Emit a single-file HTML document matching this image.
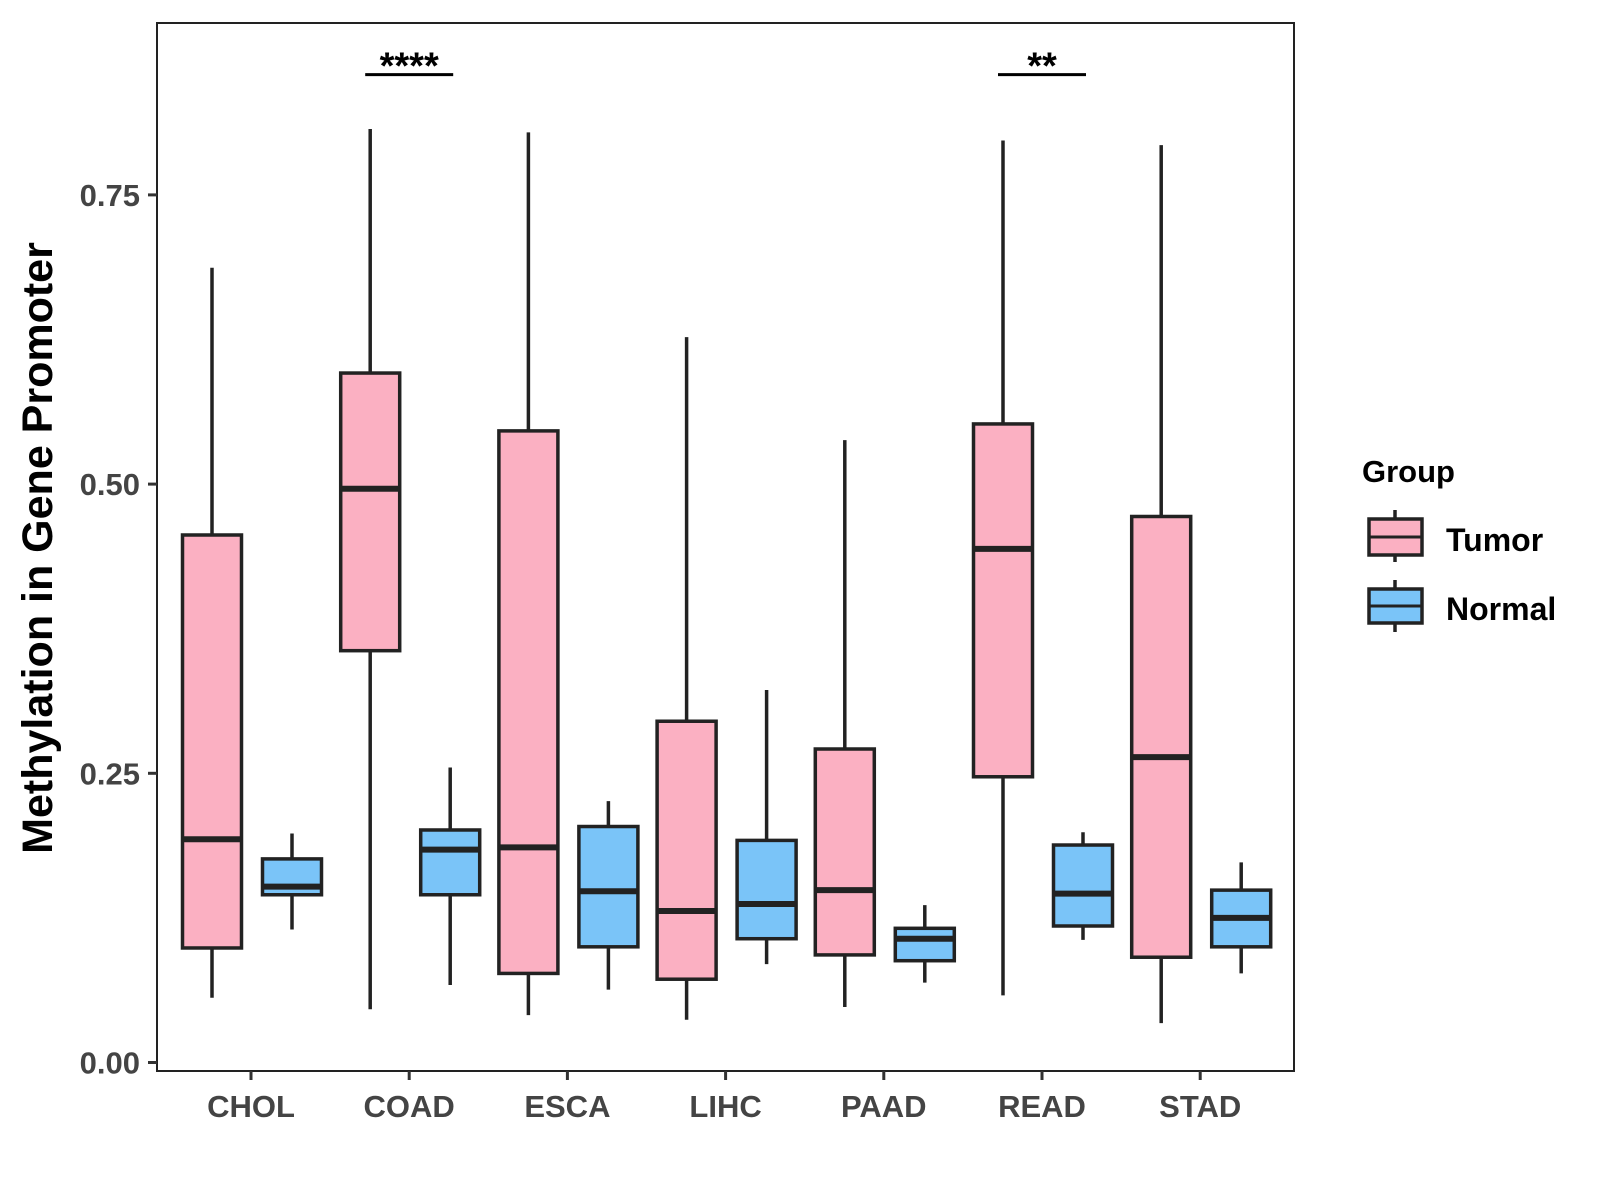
<!DOCTYPE html>
<html><head><meta charset="utf-8"><style>
body{margin:0;background:#fff}
svg{display:block;font-family:"Liberation Sans",Arial,sans-serif}
</style></head><body>
<svg id="chart" width="1600" height="1200" viewBox="0 0 1600 1200">
<rect x="157" y="23" width="1137" height="1048" fill="#fff" stroke="#222" stroke-width="2"/>
<g id="marks"></g>
<g id="axes"></g>
<text x="52" y="548" transform="rotate(-90 52 548)" text-anchor="middle" font-size="43" font-weight="bold" fill="#000">Methylation in Gene Promoter</text>
<g>
<text x="1362" y="482" font-size="31" font-weight="bold" fill="#000">Group</text>
<g>
<line x1="1395" y1="510" x2="1395" y2="562" stroke="#222" stroke-width="3.5"/>
<rect x="1369" y="519" width="53" height="36" fill="#FBB0C2" stroke="#222" stroke-width="3.5"/>
<line x1="1369" y1="537" x2="1422" y2="537" stroke="#222" stroke-width="3"/>
<text x="1446" y="551" font-size="32" font-weight="bold" fill="#000">Tumor</text>
</g>
<g>
<line x1="1395" y1="580" x2="1395" y2="632" stroke="#222" stroke-width="3.5"/>
<rect x="1369" y="589" width="53" height="34" fill="#7AC4F8" stroke="#222" stroke-width="3.5"/>
<line x1="1369" y1="606" x2="1422" y2="606" stroke="#222" stroke-width="3"/>
<text x="1446" y="620" font-size="32" font-weight="bold" fill="#000">Normal</text>
</g>
</g>
</svg>
<script>
const categories=["CHOL","COAD","ESCA","LIHC","PAAD","READ","STAD"];
// [whiskerLow, Q1, median, Q3, whiskerHigh]
const tumorStats=[[0.056,0.099,0.193,0.456,0.687],[0.046,0.356,0.496,0.596,0.807],[0.041,0.077,0.186,0.546,0.804],[0.037,0.072,0.131,0.295,0.627],[0.048,0.093,0.149,0.271,0.538],[0.058,0.247,0.444,0.552,0.797],[0.034,0.091,0.264,0.472,0.793]];
const normalStats=[[0.115,0.145,0.152,0.176,0.198],[0.067,0.145,0.184,0.201,0.255],[0.063,0.100,0.148,0.204,0.226],[0.085,0.107,0.137,0.192,0.322],[0.069,0.088,0.107,0.116,0.136],[0.106,0.118,0.146,0.188,0.199],[0.077,0.100,0.125,0.149,0.173]];
const yTicks=[0,0.25,0.5,0.75];
const yTickLabels=["0.00","0.25","0.50","0.75"];
const sigCategories=["COAD","READ"];
const sigLabels=["****","**"];
const sigLevel=[0.854];

const NS="http://www.w3.org/2000/svg";
const y=v=>1062.5-v*1156.8;
const x=i=>251+i*158.2;
function mk(tag,attrs,parent){const e=document.createElementNS(NS,tag);for(const k in attrs)e.setAttribute(k,attrs[k]);parent.appendChild(e);return e;}
const marks=document.getElementById('marks'),axes=document.getElementById('axes');
function box(cx,s,fill,name){
  const g=mk('g',{},marks);
  
  
  mk('line',{x1:cx,x2:cx,y1:y(s[4]),y2:y(s[0]),stroke:'#222','stroke-width':3.5},g);
  mk('rect',{x:cx-29.5,y:y(s[3]),width:59,height:y(s[1])-y(s[3]),fill:fill,stroke:'#222','stroke-width':3.5},g);
  mk('line',{x1:cx-29.5,x2:cx+29.5,y1:y(s[2]),y2:y(s[2]),stroke:'#222','stroke-width':6},g);
}
categories.forEach((c,i)=>{
  box(x(i)-39,tumorStats[i],'#FBB0C2','box-tumor-'+c.toLowerCase());
  box(x(i)+41,normalStats[i],'#7AC4F8','box-normal-'+c.toLowerCase());
  mk('line',{x1:x(i),x2:x(i),y1:1071,y2:1080,stroke:'#333','stroke-width':3},axes);
  const t=mk('text',{x:x(i),y:1117,'text-anchor':'middle','font-size':31,'font-weight':'bold',fill:'#444'},axes);
  t.textContent=c;
  
  
});
yTicks.forEach((v,i)=>{
  mk('line',{x1:148,x2:157,y1:y(v),y2:y(v),stroke:'#333','stroke-width':3},axes);
  const t=mk('text',{x:140,y:y(v)+11,'text-anchor':'end','font-size':31,'font-weight':'bold',fill:'#444'},axes);
  t.textContent=yTickLabels[i];
  
  
});
sigCategories.forEach((c,j)=>{
  const i=categories.indexOf(c);
  const g=mk('g',{},marks);
  
  
  mk('line',{x1:x(i)-44,x2:x(i)+44,y1:y(sigLevel[0]),y2:y(sigLevel[0]),stroke:'#000','stroke-width':3},g);
  const t=mk('text',{x:x(i),y:y(sigLevel[0])+4,'text-anchor':'middle','font-size':38,'font-weight':'bold',fill:'#000'},g);
  t.textContent=sigLabels[j];
});
</script>
</body></html>
